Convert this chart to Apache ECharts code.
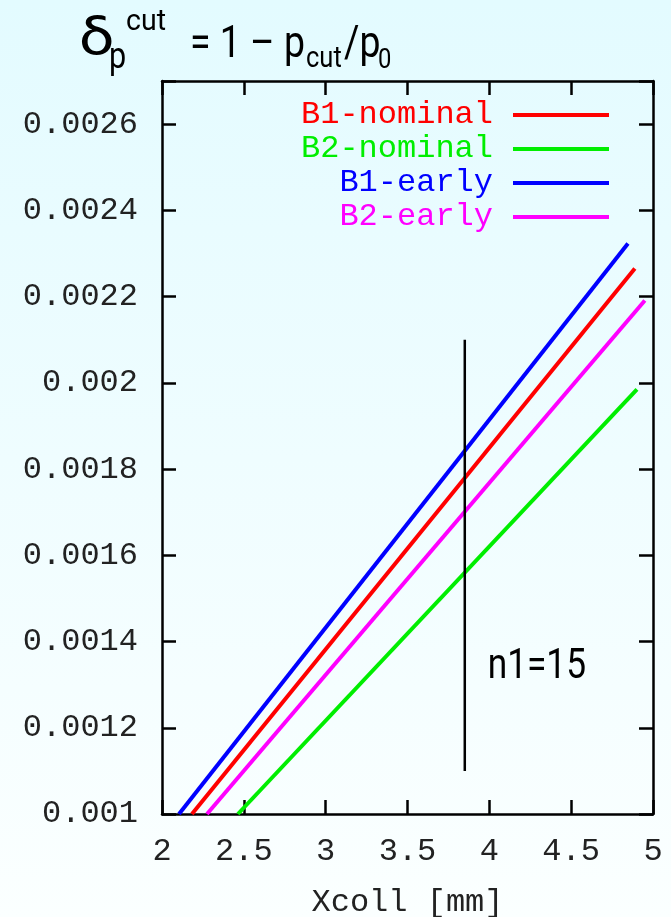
<!DOCTYPE html>
<html>
<head>
<meta charset="utf-8">
<script src="https://cdn.jsdelivr.net/npm/echarts@6/dist/echarts.min.js"></script>
<style>
  html, body { margin: 0; padding: 0; }
  #main { width: 671px; height: 917px; background: linear-gradient(#e3fbff, #fbffff); }
</style>
</head>
<body>
<div id="main"></div>
<script>
  // series data (Xcoll in mm, delta_p cut)
  const seriesNames = ['B1-nominal', 'B2-nominal', 'B1-early', 'B2-early'];
  const seriesColors = ['#ff0000', '#00ee00', '#0000ff', '#ff00ff'];
  const b1NominalX = [2.183, 4.889];
  const b1NominalY = [0.001, 0.002265];
  const b2NominalX = [2.464, 4.902];
  const b2NominalY = [0.001, 0.001985];
  const b1EarlyX = [2.104, 4.847];
  const b1EarlyY = [0.001, 0.002323];
  const b2EarlyX = [2.275, 4.950];
  const b2EarlyY = [0.001, 0.002191];
  // n1=15 marker line and its label
  const markerX = [3.85, 3.85];
  const markerY = [0.0011, 0.0021];
  const markerLabel = 'n1=15';
  const markerLabelPos = [3.99, 0.00134];

  const xRange = [2, 5, 0.5];
  const yRange = [0.001, 0.0027, 0.0002];

  const pairs = (xs, ys) => xs.map((x, i) => [x, ys[i]]);
  const lineData = [
    pairs(b1NominalX, b1NominalY),
    pairs(b2NominalX, b2NominalY),
    pairs(b1EarlyX, b1EarlyY),
    pairs(b2EarlyX, b2EarlyY)
  ];

  const mono = 'Liberation Mono';
  const sans = 'Roboto';
  const myChart = echarts.init(document.getElementById('main'));

  const axisLine = { lineStyle: { color: '#000', width: 2.5 } };
  const axisTick = { inside: true, length: 14, lineStyle: { color: '#000', width: 2.5 } };

  // title pieces: text, left x, middle y, font size, horizontal squeeze
  const titleParts = [
    ['δ', 79, 41, 52, 1.2],
    ['p', 109, 59, 36, 0.85],
    ['cut', 126, 22, 30, 0.95],
    ['= 1 – p', 190, 46, 44, 0.85],
    ['cut', 306, 59, 30, 0.85],
    ['/p', 344, 46, 44, 0.85],
    ['0', 378, 61, 28, 0.85]
  ];

  myChart.setOption({
    animation: false,
    grid: { left: 162, right: 18, top: 81, bottom: 103, outerBoundsMode: 'none' },
    legend: {
      orient: 'vertical',
      align: 'right',
      right: 57,
      top: 94,
      itemWidth: 96,
      itemHeight: 4,
      itemGap: 2,
      icon: 'rect',
      textStyle: { fontFamily: mono, fontSize: 32, padding: [0, 15, 0, 0] },
      data: seriesNames.map((n, i) => ({ name: n, textStyle: { color: seriesColors[i] } }))
    },
    xAxis: [{
      type: 'value', min: xRange[0], max: xRange[1], interval: xRange[2],
      name: 'Xcoll [mm]', nameLocation: 'middle', nameGap: 73,
      nameTextStyle: { fontFamily: mono, fontSize: 32, color: '#222' },
      axisLine, axisTick, splitLine: { show: false },
      axisLabel: { fontFamily: mono, fontSize: 32, color: '#222', margin: 22 }
    }, {
      type: 'value', position: 'top', min: xRange[0], max: xRange[1], interval: xRange[2],
      axisLine, axisTick, splitLine: { show: false }, axisLabel: { show: false }
    }],
    yAxis: [{
      type: 'value', min: yRange[0], max: yRange[1], interval: yRange[2],
      axisLine, axisTick, splitLine: { show: false },
      axisLabel: {
        fontFamily: mono, fontSize: 32, color: '#222', margin: 24,
        formatter: v => v > 0.00265 ? '' : String(+v.toFixed(4))
      }
    }, {
      type: 'value', position: 'right', min: yRange[0], max: yRange[1], interval: yRange[2],
      axisLine, axisTick, splitLine: { show: false }, axisLabel: { show: false }
    }],
    series: seriesNames.map((n, i) => ({
      name: n,
      type: 'line',
      data: lineData[i],
      symbol: 'none',
      color: seriesColors[i],
      lineStyle: { width: 4, color: seriesColors[i] }
    })).concat([{
      name: 'marker',
      type: 'line',
      data: pairs(markerX, markerY),
      symbol: 'none',
      lineStyle: { width: 2.5, color: '#000' }
    }]),
    graphic: titleParts.map((p, i) => ({
      id: 'title' + i,
      type: 'text',
      x: p[1], y: p[2], scaleX: p[4],
      style: {
        text: p[0], fontFamily: sans, fontSize: p[3], fill: '#000',
        align: 'left', verticalAlign: 'middle'
      }
    }))
  });

  const lp = myChart.convertToPixel({ gridIndex: 0 }, markerLabelPos);
  myChart.setOption({
    graphic: [{
      id: 'n1', type: 'text', x: lp[0], y: lp[1], scaleX: 0.82,
      style: {
        text: markerLabel, fontFamily: sans, fontSize: 43, fill: '#000',
        align: 'left', verticalAlign: 'middle'
      }
    }]
  });
</script>
</body>
</html>
